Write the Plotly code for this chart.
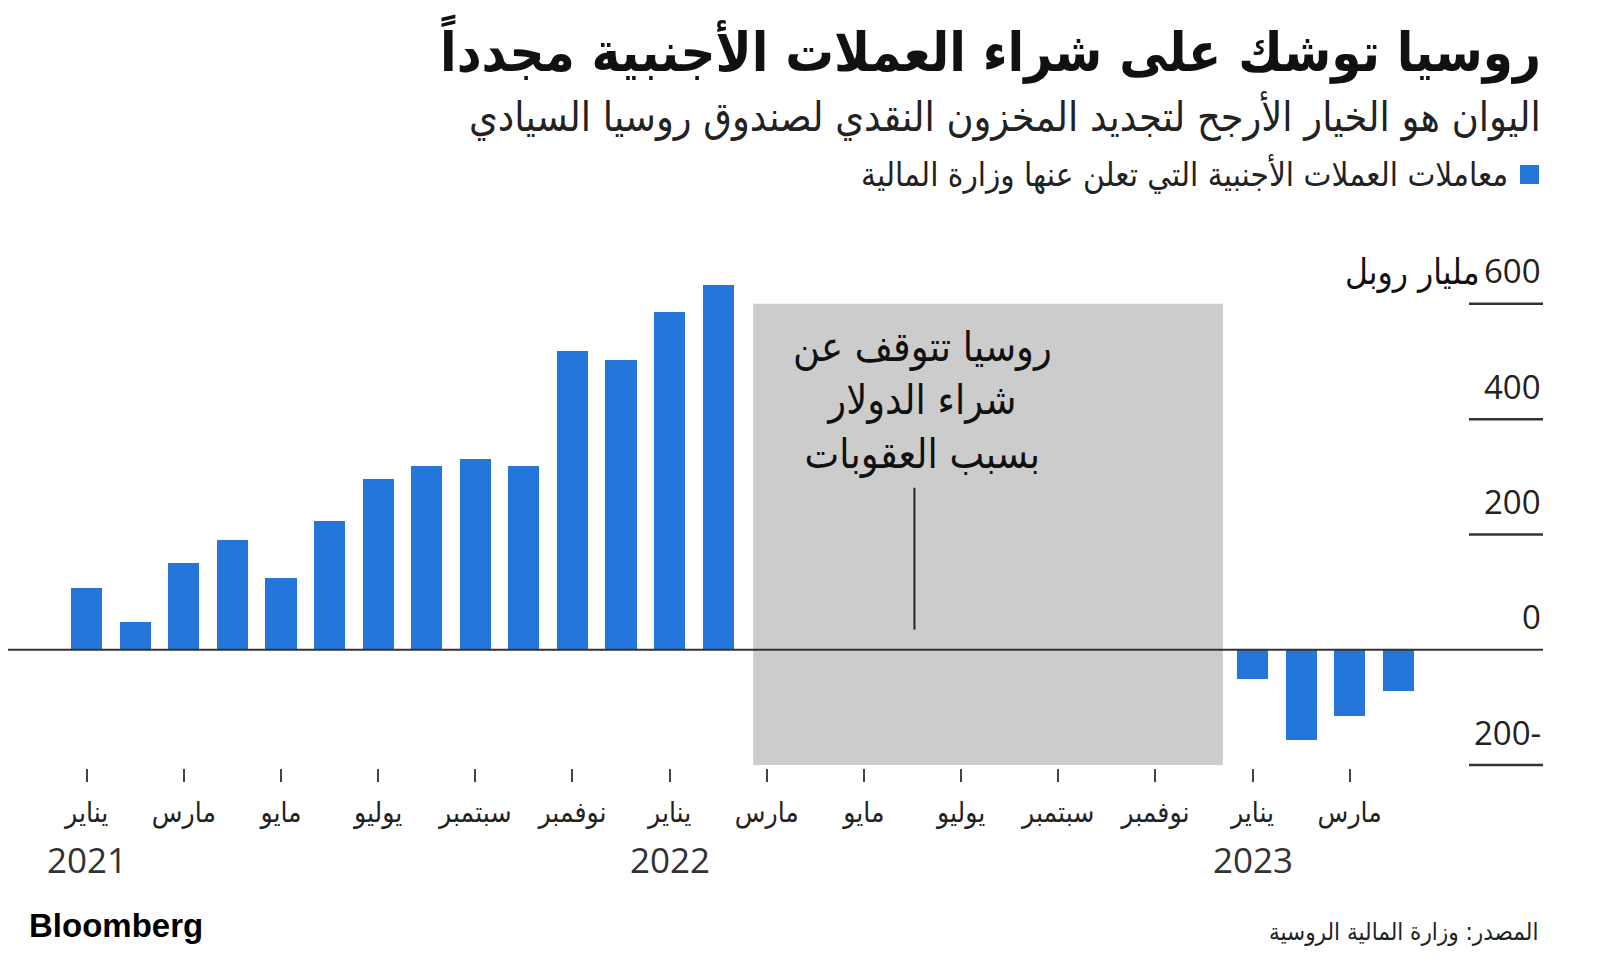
import plotly.graph_objects as go

# ---------------- data ----------------
months = ["2021-01", "2021-02", "2021-03", "2021-04", "2021-05", "2021-06", "2021-07",
          "2021-08", "2021-09", "2021-10", "2021-11", "2021-12", "2022-01", "2022-02",
          "2023-01", "2023-02", "2023-03", "2023-04"]
values = [108, 49, 151, 190, 125, 224, 297, 318, 331, 318, 518, 502, 586, 633,
          -50, -157, -114, -71]

tick_months = ["يناير", "مارس", "مايو", "يوليو", "سبتمبر", "نوفمبر"]
years = ["2021", "2022", "2023"]
y_ticks = [600, 400, 200, 0, -200]
y_tick_text = ["600", "400", "200", "0", "200-"]

title = "روسيا توشك على شراء العملات الأجنبية مجدداً"
subtitle = "اليوان هو الخيار الأرجح لتجديد المخزون النقدي لصندوق روسيا السيادي"
legend_text = "معاملات العملات الأجنبية التي تعلن عنها وزارة المالية"
unit_text = "مليار روبل"
note_text = "روسيا تتوقف عن<br>شراء الدولار<br>بسبب العقوبات"
source_text = "المصدر: وزارة المالية الروسية"

# ---------------- helpers ----------------
def month_index(s):
    y, m = s.split("-")
    return (int(y) - 2021) * 12 + (int(m) - 1)

x = [month_index(m) for m in months]

BLUE = "#2576DB"
GRAY = "#CCCCCC"
DARK = "#222222"
AR = "DejaVu Sans Condensed, DejaVu Sans, sans-serif"
NUM = "Open Sans, Roboto, sans-serif"

OFF = 8                 # page body margin
W, H = 1600 - OFF, 966 - OFF
L, R = 0, 1543 - OFF    # plot area in figure px
T, B = 275 - OFF, 768 - OFF

def px_x(p):            # p: screen px
    return (p - OFF - L) / (R - L)

def px_y(p):
    return (B - (p - OFF)) / (B - T)

fig = go.Figure()
fig.add_trace(go.Bar(x=x, y=values, marker=dict(color=BLUE, line=dict(width=0)),
                     width=0.64, showlegend=False, hoverinfo="x+y"))

tickvals = list(range(0, 27, 2))
ticktext = [tick_months[(v // 2) % 6] for v in tickvals]

fig.update_layout(
    width=W, height=H,
    margin=dict(l=L, r=W - R, t=T, b=H - B, pad=0),
    paper_bgcolor="white", plot_bgcolor="white",
    bargap=0,
    xaxis=dict(range=[-1.62, 29.98], tickmode="array", tickvals=tickvals, ticktext=ticktext,
               ticks="outside", ticklen=13, tickwidth=1.5, tickcolor="#444",
               showgrid=False, zeroline=False, showline=False,
               tickfont=dict(family=AR, size=28, color=DARK), ticklabelstandoff=6),
    yaxis=dict(range=[-205, 650], showgrid=False, zeroline=False, showticklabels=False,
               showline=False),
)

shapes = []
# shaded sanctions period
shapes.append(dict(type="rect", xref="x", yref="y", x0=13.72, x1=23.39, y0=-200, y1=600,
                   fillcolor=GRAY, line=dict(width=0), layer="below"))
# right-side short gridlines
for v in y_ticks:
    if v != 0:
        shapes.append(dict(type="line", xref="paper", yref="y", x0=px_x(1469), x1=1,
                           y0=v, y1=v, line=dict(color="#333", width=2.5)))
# zero line
shapes.append(dict(type="line", xref="paper", yref="y", x0=0, x1=1, y0=0, y1=0,
                   line=dict(color="#333", width=2), layer="above"))
# note pointer line
shapes.append(dict(type="line", xref="x", yref="y", x0=17.04, x1=17.04, y0=35, y1=281,
                   line=dict(color="#222", width=2)))
# legend square
shapes.append(dict(type="rect", xref="paper", yref="paper", x0=px_x(1520), x1=px_x(1539),
                   y0=px_y(184), y1=px_y(165), fillcolor=BLUE, line=dict(width=0)))
fig.update_layout(shapes=shapes)

ann = []
# y tick labels
for v, t in zip(y_ticks, y_tick_text):
    ann.append(dict(text=t, xref="paper", yref="y", x=1, y=v, xanchor="right",
                    yanchor="middle", yshift=33, showarrow=False,
                    font=dict(family=NUM, size=33, color=DARK)))
ann.append(dict(text=unit_text, xref="paper", yref="y", x=px_x(1482), y=600,
                xanchor="right", yanchor="middle", yshift=31, showarrow=False,
                font=dict(family=AR, size=35, color="#111")))
# years
for i, yr in enumerate(years):
    ann.append(dict(text=yr, xref="x", yref="paper", x=i * 12, y=px_y(859),
                    xanchor="center", yanchor="middle", showarrow=False,
                    font=dict(family=NUM, size=35, color="#333")))
# title etc
ann.append(dict(text="<b>" + title + "</b>", xref="paper", yref="paper", x=1, y=px_y(49),
                xanchor="right", yanchor="middle", showarrow=False,
                font=dict(family=AR, size=54, color="#111")))
ann.append(dict(text=subtitle, xref="paper", yref="paper", x=1, y=px_y(116),
                xanchor="right", yanchor="middle", showarrow=False,
                font=dict(family=AR, size=41, color="#222")))
ann.append(dict(text=legend_text, xref="paper", yref="paper", x=px_x(1510), y=px_y(174),
                xanchor="right", yanchor="middle", showarrow=False,
                font=dict(family=AR, size=33, color="#222")))
ann.append(dict(text=note_text, xref="x", yref="y", x=17.2, y=433,
                xanchor="center", yanchor="middle", showarrow=False, align="center",
                font=dict(family=AR, size=41, color="#111")))
ann.append(dict(text="<b>Bloomberg</b>", xref="paper", yref="paper", x=px_x(27), y=px_y(925),
                xanchor="left", yanchor="middle", showarrow=False,
                font=dict(family="Liberation Sans, Arial, sans-serif", size=33, color="#000")))
ann.append(dict(text=source_text, xref="paper", yref="paper", x=px_x(1540), y=px_y(932),
                xanchor="right", yanchor="middle", showarrow=False,
                font=dict(family=AR, size=24, color="#222")))
fig.update_layout(annotations=ann)

fig.write_html("out.html")
